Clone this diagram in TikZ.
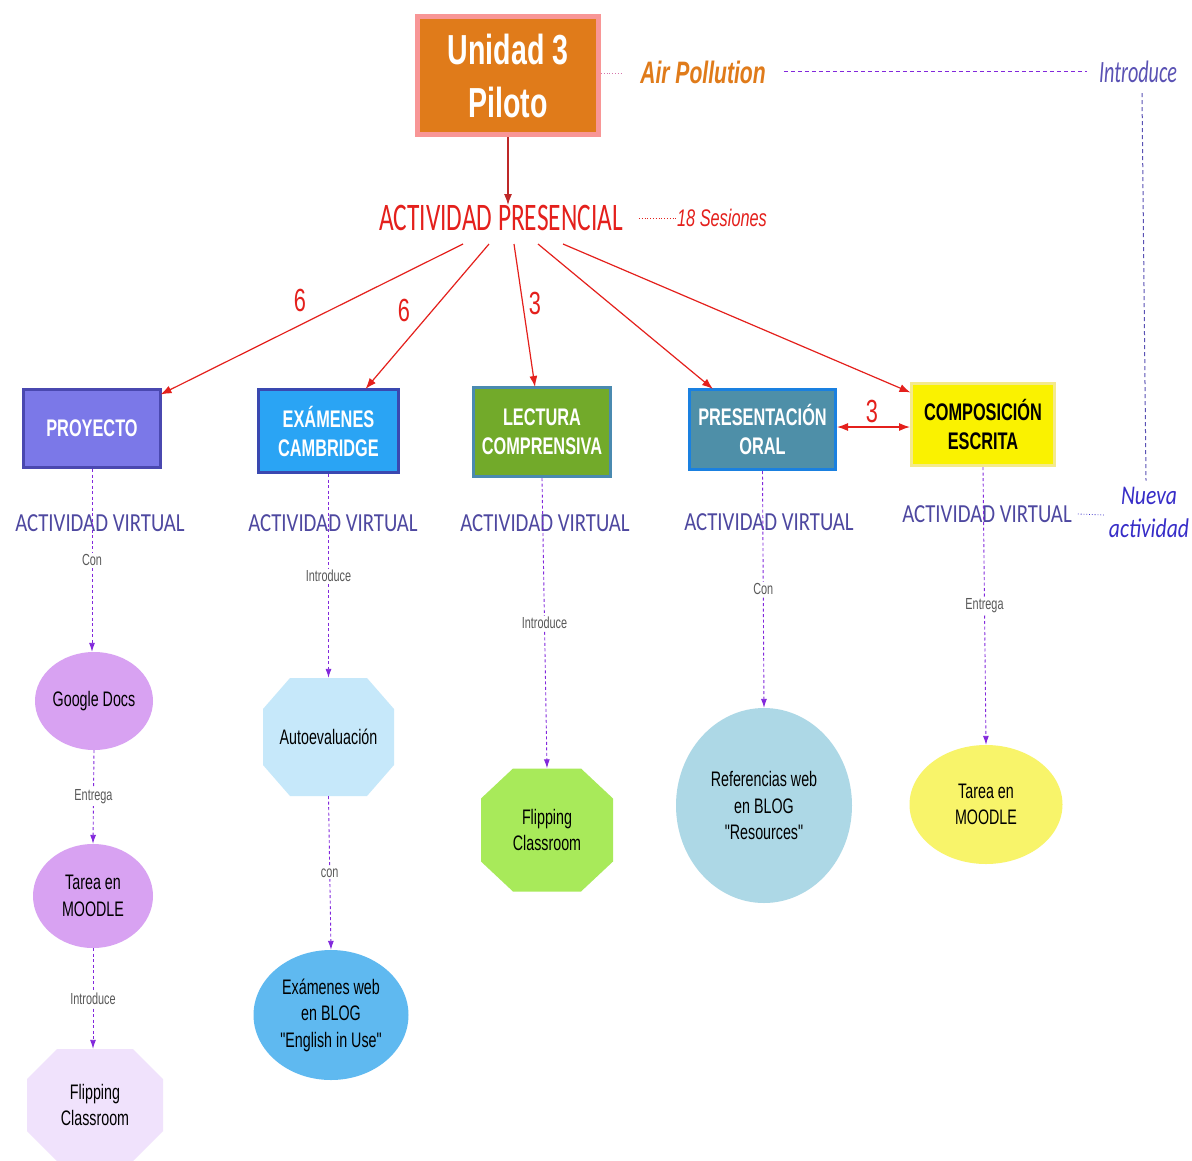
\documentclass[tikz,border=0pt]{standalone}
\usepackage{fontspec}
\setmainfont{Liberation Sans}
\newfontfamily\nar[FakeStretch=0.68]{Liberation Sans}
\newfontfamily\calp[FakeStretch=0.65]{Carlito}
\newfontfamily\calv[FakeStretch=0.8]{Carlito}
\usetikzlibrary{arrows.meta,calc,shapes.geometric}
\newcommand\myfs[2]{\fontsize{#1}{#2}\selectfont}
\definecolor{arrred}{RGB}{228,32,28}
\definecolor{darkred}{RGB}{190,40,40}
\definecolor{vio}{RGB}{130,40,220}
\definecolor{avcol}{RGB}{78,72,160}
\definecolor{introcol}{RGB}{90,82,180}
\definecolor{nuevacol}{RGB}{55,45,200}
\definecolor{orangefill}{RGB}{224,123,26}
\definecolor{pinkborder}{RGB}{248,150,150}
\definecolor{proyfill}{RGB}{123,120,232}
\definecolor{proybord}{RGB}{74,72,176}
\definecolor{examfill}{RGB}{42,164,244}
\definecolor{exambord}{RGB}{58,72,176}
\definecolor{lectfill}{RGB}{114,170,42}
\definecolor{lectbord}{RGB}{74,138,176}
\definecolor{presfill}{RGB}{78,143,168}
\definecolor{presbord}{RGB}{26,128,224}
\definecolor{compfill}{RGB}{250,242,0}
\definecolor{compbord}{RGB}{244,234,140}
\definecolor{orchid}{RGB}{216,162,242}
\definecolor{lavender}{RGB}{240,226,252}
\definecolor{paleblue}{RGB}{198,232,250}
\definecolor{midblue}{RGB}{95,185,240}
\definecolor{lime}{RGB}{168,234,90}
\definecolor{ltblue}{RGB}{173,216,230}
\definecolor{ltyellow}{RGB}{248,244,106}
\tikzset{
  boxnode/.style={draw, line width=3pt, text=white, font=\nar\bfseries\myfs{24}{29}, align=center, inner sep=0pt},
  ellnode/.style={ellipse, inner sep=0pt, font=\nar\myfs{21}{26.5}, align=center},
  octnode/.style n args={3}{rectangle, inner sep=0pt, font=\nar\myfs{21}{26.5}, align=center,
    path picture={\fill[#1]
      ([xshift=#2]path picture bounding box.north west) --
      ([xshift=-#2]path picture bounding box.north east) --
      ([yshift=-#3]path picture bounding box.north east) --
      ([yshift=#3]path picture bounding box.south east) --
      ([xshift=-#2]path picture bounding box.south east) --
      ([xshift=#2]path picture bounding box.south west) --
      ([yshift=#3]path picture bounding box.south west) --
      ([yshift=-#3]path picture bounding box.north west) -- cycle;}},
  vline/.style={draw=vio, line width=0.9pt, dash pattern=on 3pt off 2.5pt, -{Latex[length=9pt,width=6pt]}},
  lbl/.style={fill=white, inner sep=1.5pt, font=\nar\myfs{16}{18}, text=black!65},
  redarr/.style={draw=arrred, line width=1.2pt, -{Latex[length=11pt,width=8pt]}},
  avnode/.style={font=\calv\myfs{26}{30}, text=avcol, inner sep=0pt},
  numnode/.style={font=\nar\myfs{32}{34}, text=arrred, inner sep=0pt}
}
\begin{document}
\begin{tikzpicture}[x=1pt,y=-1pt]
\fill[white] (0,0) rectangle (1192,1160);
\useasboundingbox (0,0) rectangle (1192,1160);

% top
\node[draw=pinkborder, line width=5pt, fill=orangefill, minimum width=181pt, minimum height=118pt,
  inner sep=0pt, text=white, font=\nar\bfseries\myfs{42}{53}, align=center] (top) at (508,75.5) {Unidad 3\\Piloto};
\node[font=\nar\bfseries\itshape\myfs{31}{33}, text=orangefill, inner sep=0pt] (ap) at (703,72) {Air Pollution};
\node[font=\calp\itshape\myfs{31}{33}, text=introcol, inner sep=0pt] (intro) at (1138,72) {Introduce};
\node[font=\calv\itshape\myfs{27}{33}, text=nuevacol, inner sep=0pt, align=center] (nueva) at (1149,512) {Nueva\\actividad};

\node[font=\calp\myfs{39}{41}, text=arrred, inner sep=0pt] (pres) at (501,218) {ACTIVIDAD PRESENCIAL};
\node[font=\nar\itshape\myfs{24}{26}, text=arrred, inner sep=0pt] (ses) at (722,218) {18 Sesiones};

\draw[draw=pinkborder!70!vio, line width=0.8pt, dotted] (top.east) ++(0,-2) -- ++(22,0) coordinate (apdot);
\draw[draw=vio, line width=1pt, dash pattern=on 4pt off 3pt] ($(ap.east)+(18,-1)$) -- ($(intro.west)+(-12,-1)$);
\draw[draw=introcol, line width=1pt, dash pattern=on 4pt off 3pt] ($(intro.south)+(4,10)$) -- ($(nueva.north)+(-3,-6)$);
\draw[draw=darkred, line width=1.2pt, -{Latex[length=11pt,width=8pt]}] (top.south) -- (top.south |- pres.north);
\draw[draw=arrred, line width=0.8pt, dotted] ($(pres.east)+(16,0)$) -- (ses.west);

% boxes
\node[boxnode, fill=proyfill, draw=proybord, minimum width=137pt, minimum height=78pt] (pb) at (92,428.5) {PROYECTO};
\node[boxnode, fill=examfill, draw=exambord, minimum width=140pt, minimum height=83pt] (eb) at (328.5,431) {EXÁMENES\\CAMBRIDGE};
\node[boxnode, fill=lectfill, draw=lectbord, minimum width=137pt, minimum height=89pt] (lb) at (542,432) {LECTURA\\COMPRENSIVA};
\node[boxnode, fill=presfill, draw=presbord, minimum width=146pt, minimum height=80pt] (ob) at (762.5,429.5) {PRESENTACIÓN\\ORAL};
\node[boxnode, fill=compfill, draw=compbord, text=black, minimum width=143pt, minimum height=82pt] (cb) at (983,424.5) {COMPOSICIÓN\\ESCRITA};

% red arrows
\coordinate (s1) at (463,244);
\coordinate (s2) at (489,244);
\coordinate (s3) at (514,244);
\coordinate (s4) at (538,244);
\coordinate (s5) at (563,244);
\draw[redarr] (s1) -- ($(pb.north east)+(-1.5,6.5)$);
\draw[redarr] (s2) -- ($(eb.north)+(37,1)$);
\draw[redarr] (s3) -- ($(lb.north)+(-7,1)$);
\draw[redarr] (s4) -- ($(ob.north west)+(25,1)$);
\draw[redarr] (s5) -- ($(cb.north west)+(0.5,10.5)$);
\draw[draw=arrred, line width=1.2pt, {Latex[length=11pt,width=8pt]}-{Latex[length=11pt,width=8pt]}] ($(ob.east)+(0,-2.5)$) -- ($(ob.east -| cb.west)+(0,-2.5)$);
\node[numnode] (n1) at (300,300) {6};
\node[numnode] (n2) at (404,310) {6};
\node[numnode] (n3) at (535,303) {3};
\node[numnode] (n4) at (872,411) {3};

% actividad virtual
\node[avnode] (av1) at (100,523) {ACTIVIDAD VIRTUAL};
\node[avnode] (av2) at (333,523) {ACTIVIDAD VIRTUAL};
\node[avnode] (av3) at (545,523) {ACTIVIDAD VIRTUAL};
\node[avnode] (av4) at (769,522) {ACTIVIDAD VIRTUAL};
\node[avnode] (av5) at (987,514) {ACTIVIDAD VIRTUAL};
\draw[draw=nuevacol, line width=0.8pt, dotted] ($(av5.east)+(6,0)$) -- ($(nueva.west)+(-4,3)$);

% lower nodes
\node[ellnode, fill=orchid, minimum width=118pt, minimum height=98pt] (gd) at (94,701) {Google Docs};
\node[ellnode, fill=orchid, minimum width=120pt, minimum height=104pt] (t1) at (93,896) {Tarea en\\MOODLE};
\node[octnode={lavender}{30pt}{30pt}, minimum width=136pt, minimum height=112pt] (f1) at (95,1105) {Flipping\\Classroom};
\node[octnode={paleblue}{27pt}{31pt}, minimum width=131pt, minimum height=118pt] (ae) at (328.5,737) {Autoevaluación};
\node[ellnode, fill=midblue, minimum width=155pt, minimum height=130pt] (ew) at (331,1015) {Exámenes web\\en BLOG\\"English in Use"};
\node[octnode={lime}{32pt}{30pt}, minimum width=132pt, minimum height=123pt] (f2) at (547,830) {Flipping\\Classroom};
\node[ellnode, fill=ltblue, minimum width=176pt, minimum height=195pt] (rw) at (764,805.5) {Referencias web\\en BLOG\\"Resources"};
\node[ellnode, fill=ltyellow, minimum width=153pt, minimum height=119pt] (t2) at (986,804.5) {Tarea en\\MOODLE};

% dashed connectors
\draw[vline] (pb.south) -- node[lbl] {Con} (pb.south |- gd.north);
\draw[vline] (gd.south) -- node[lbl] {Entrega} (t1.north);
\draw[vline] (t1.south) -- node[lbl] {Introduce} (t1.south |- f1.north);
\draw[vline] (eb.south) -- node[lbl] {Introduce} (eb.south |- ae.north);
\draw[vline] (ae.south) -- node[lbl] {con} (ew.north);
\draw[vline] (lb.south) -- node[lbl] {Introduce} (f2.north);
\draw[vline] (ob.south) -- node[lbl] {Con} (rw.north);
\draw[vline] (cb.south) -- node[lbl] {Entrega} (t2.north);
\end{tikzpicture}
\end{document}
